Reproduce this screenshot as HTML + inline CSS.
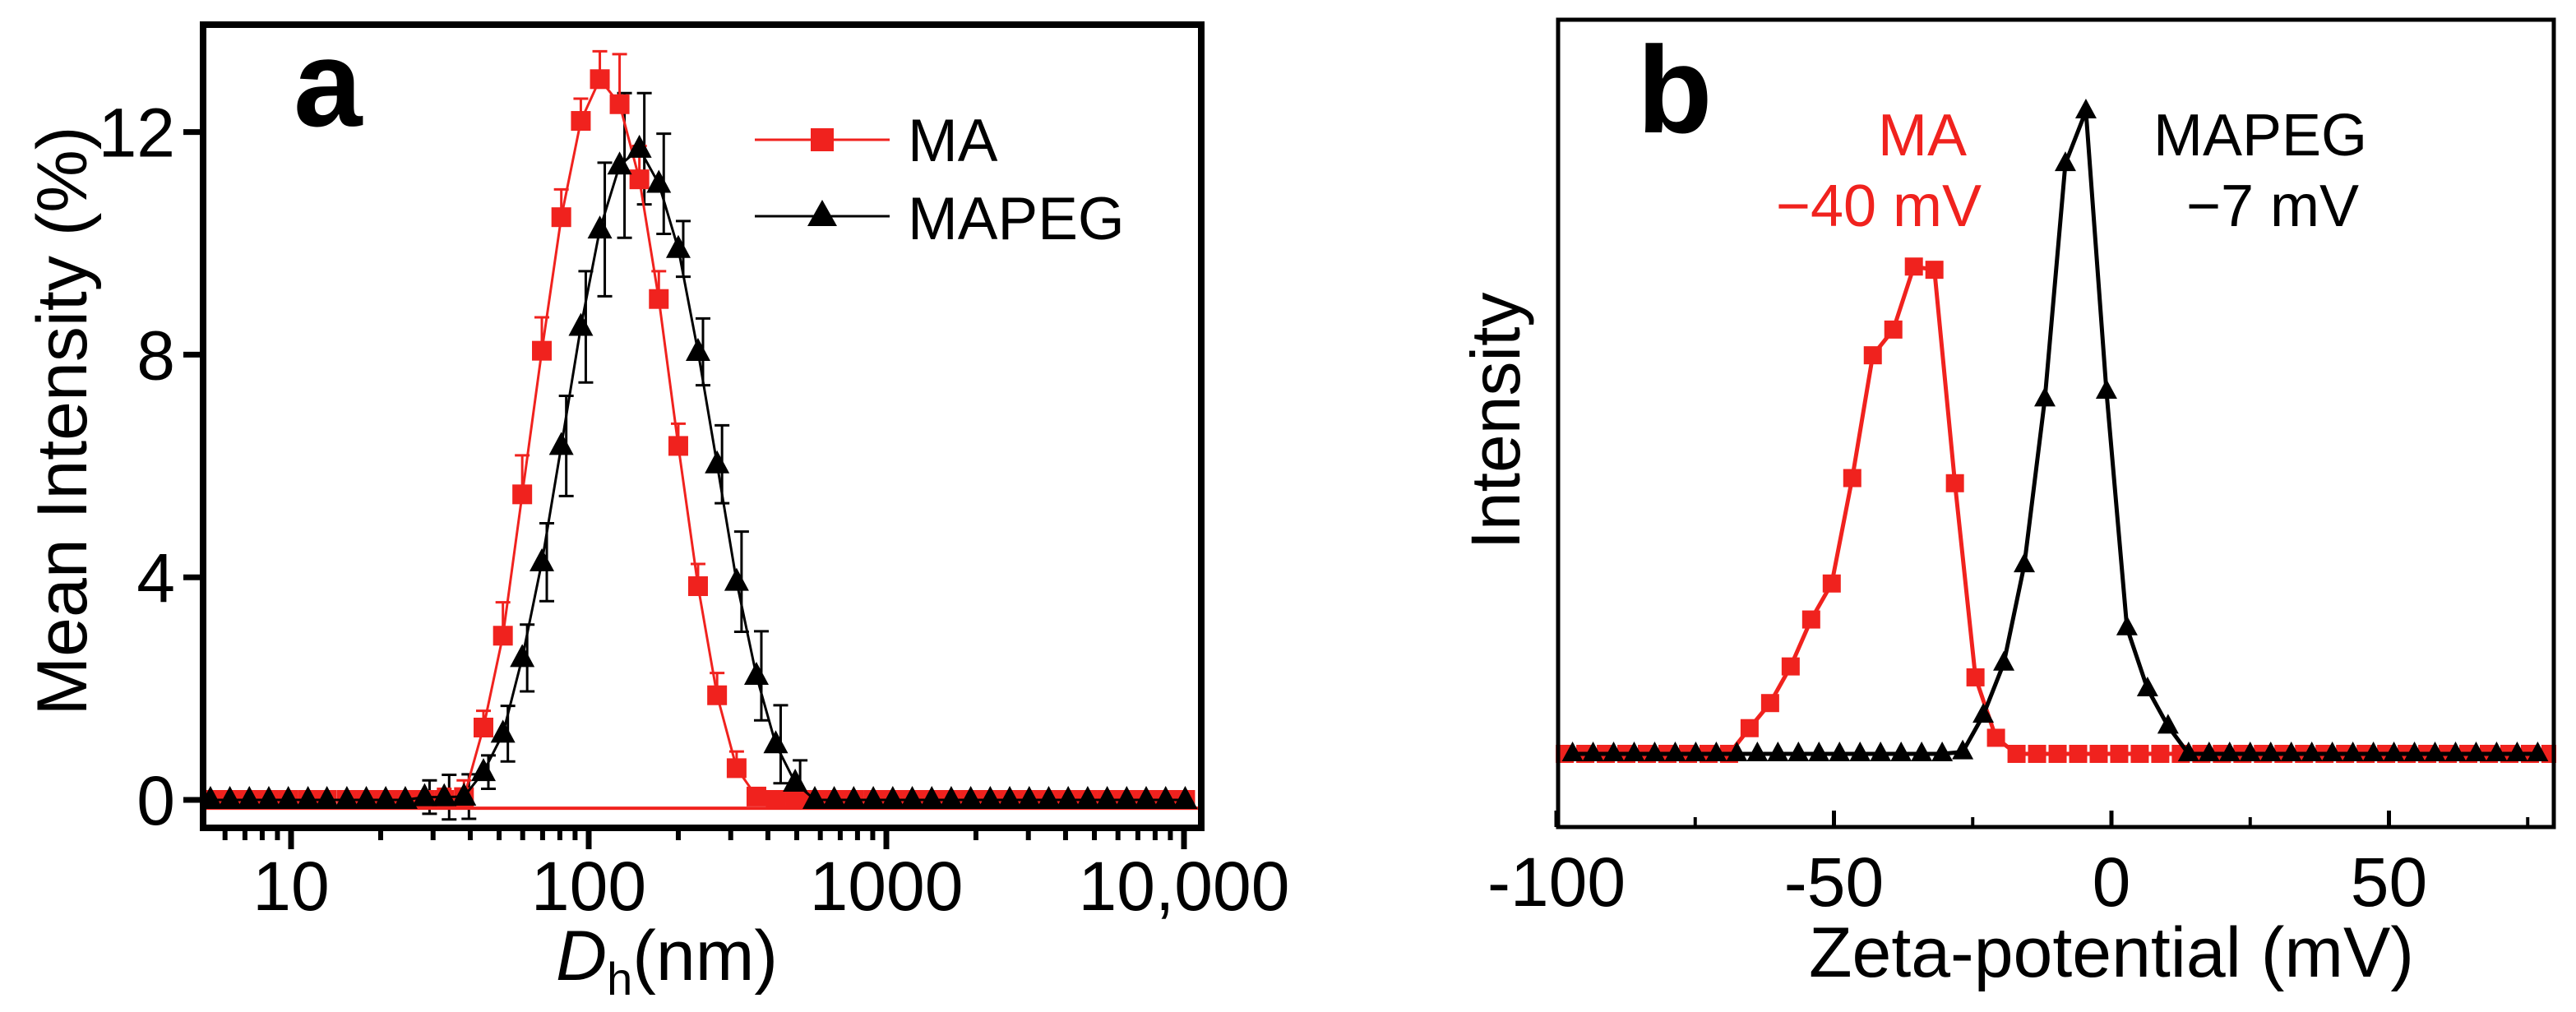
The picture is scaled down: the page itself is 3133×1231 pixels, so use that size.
<!DOCTYPE html>
<html><head><meta charset="utf-8"><style>
html,body{margin:0;padding:0;background:#fff;}
svg{display:block;font-family:"Liberation Sans",Arial,sans-serif;}
</style></head><body>
<svg id="fig" width="3133" height="1231" viewBox="0 0 3133 1231" xmlns="http://www.w3.org/2000/svg">
  <g id="pa"></g>
  <g id="pb"></g>
</svg>
<script>
// ---------- Panel a data ----------
const aSizes = [5.36,6.23,7.24,8.42,9.79,11.4,13.2,15.4,17.9,20.8,24.2,28.1,32.7,38.1,44.3,51.5,59.8,69.6,80.9,94.1,109,127,148,172,200,233,270,314,366,425,494,575,668,777,904,1051,1222,1421,1652,1921,2234,2597,3020,3512,4083,4748,5521,6420,7464,8679,10093];
const aMA = [0,0,0,0,0,0,0,0,0,0,0,0,0,0.05,1.3,2.95,5.49,8.07,10.47,12.2,12.95,12.5,11.15,9.0,6.36,3.84,1.88,0.57,0.06,0,0,0,0,0,0,0,0,0,0,0,0,0,0,0,0,0,0,0,0,0,0];
const aMAerr = [0.1,0.1,0.1,0.1,0.1,0.1,0.1,0.1,0.1,0.1,0.1,0.15,0.2,0.3,0.3,0.6,0.7,0.6,0.5,0.4,0.5,0.9,0.6,0.5,0.4,0.4,0.4,0.3,0.15,0.1,0.1,0.1,0.1,0.1,0.1,0.1,0.1,0.1,0.1,0.1,0.1,0.1,0.1,0.1,0.1,0.1,0.1,0.1,0.1,0.1,0.1];
const aPEG = [0,0,0,0,0,0,0,0,0,0,0,0.05,0.05,0.06,0.5,1.19,2.55,4.27,6.36,8.5,10.25,11.4,11.7,11.07,9.9,8.05,6.03,3.92,2.23,1.0,0.31,0,0,0,0,0,0,0,0,0,0,0,0,0,0,0,0,0,0,0,0];
const aPEGerr = [0,0,0,0,0,0,0,0,0,0,0,0.3,0.4,0.4,0.3,0.5,0.6,0.7,0.9,1.0,1.2,1.3,1.0,0.9,0.5,0.6,0.7,0.9,0.8,0.7,0.4,0,0,0,0,0,0,0,0,0,0,0,0,0,0,0,0,0,0,0,0];
const aYTicks = [0,4,8,12];
const aXTicks = [10,100,1000,10000];
const aXTickLabels = ["10","100","1000","10,000"];

// ---------- Panel b data ----------
const bMAx = [-98.5,-94.8,-91.1,-87.4,-83.7,-80,-76.3,-72.6,-68.9,-65.2,-61.5,-57.8,-54.1,-50.4,-46.7,-43,-39.3,-35.6,-31.9,-28.2,-24.5,-20.8,-17.1,-13.4,-9.7,-6,-2.3,1.4,5.1,8.8,12.5,16.2,19.9,23.6,27.3,31,34.7,38.4,42.1,45.8,49.5,53.2,56.9,60.6,64.3,68,71.7,75.4,79.1];
const bMAy = [0,0,0,0,0,0,0,0,0,4.0,7.9,13.6,20.9,26.5,42.9,62,66,75.8,75.3,42.1,11.9,2.5,0,0,0,0,0,0,0,0,0,0,0,0,0,0,0,0,0,0,0,0,0,0,0,0,0,0,0];
const bPEGx = [-97.1,-93.4,-89.7,-86,-82.3,-78.6,-74.9,-71.2,-67.5,-63.8,-60.1,-56.4,-52.7,-49,-45.3,-41.6,-37.9,-34.2,-30.5,-26.8,-23.1,-19.4,-15.7,-12,-8.3,-4.6,-0.9,2.8,6.5,10.2,13.9,17.6,21.3,25,28.7,32.4,36.1,39.8,43.5,47.2,50.9,54.6,58.3,62,65.7,69.4,73.1,76.8];
const bPEGy = [0,0,0,0,0,0,0,0,0,0,0,0,0,0,0,0,0,0,0,0.3,6.0,14.1,29.4,55.2,91.8,100,56.4,19.6,10.1,4.3,0,0,0,0,0,0,0,0,0,0,0,0,0,0,0,0,0,0];
const bXTicks = [-100,-50,0,50];
const bXMinor = [-75,-25,25,75];

const NS = "http://www.w3.org/2000/svg";
function mk(tag, attrs, parent) {
  const e = document.createElementNS(NS, tag);
  for (const k in attrs) e.setAttribute(k, attrs[k]);
  parent.appendChild(e);
  return e;
}
const RED = "#f0221e";

// ---------- Panel a ----------
const pa = document.getElementById("pa");
const aL = 247, aR = 1461, aT = 30, aB = 1007;
const ax = v => 354 + (Math.log10(v) - 1) * 362;
const ay = v => 973 - v * 67.7;

const ebA = mk("g", {}, pa);


aPEG.forEach((v, i) => {
  if (!aPEGerr[i]) return;
  const x = ax(aSizes[i]) + 6;
  mk("path", {d: `M${x},${ay(v + aPEGerr[i])}V${ay(v - aPEGerr[i])}M${x-9},${ay(v + aPEGerr[i])}h18M${x-9},${ay(v - aPEGerr[i])}h18`, stroke: "#000", "stroke-width": 3, fill: "none"}, ebA);
});
const ebR = mk("g", {}, pa);


aMA.forEach((v, i) => {
  const x = ax(aSizes[i]);
  mk("path", {d: `M${x},${ay(v)}V${ay(v + aMAerr[i])}M${x-9},${ay(v + aMAerr[i])}h18`, stroke: RED, "stroke-width": 3, fill: "none"}, ebR);
});
const band = mk("line", {x1: aL, x2: aR, y1: ay(-0.15), y2: ay(-0.15), stroke: RED, "stroke-width": 4}, pa);



const maLine = mk("polyline", {points: aMA.map((v, i) => `${ax(aSizes[i])},${ay(v)}`).join(" "), fill: "none", stroke: RED, "stroke-width": 3}, pa);


const maPts = mk("g", {}, pa);


aMA.forEach((v, i) => {
  const r = mk("rect", {x: ax(aSizes[i]) - 12, y: ay(v) - 12, width: 24, height: 24, fill: RED}, maPts);
  
  
});
const pegLine = mk("polyline", {points: aPEG.map((v, i) => `${ax(aSizes[i])},${ay(v)}`).join(" "), fill: "none", stroke: "#000", "stroke-width": 3}, pa);


const pegPts = mk("g", {}, pa);


aPEG.forEach((v, i) => {
  const x = ax(aSizes[i]), y = ay(v);
  const t = mk("path", {d: `M${x},${y-17}L${x+15},${y+11}L${x-15},${y+11}Z`, fill: "#000"}, pegPts);
  
  
});
mk("rect", {x: 0, y: 0, width: aL - 4, height: aB - 20, fill: "#fff"}, pa);
mk("rect", {x: aR + 4, y: 0, width: 380, height: aB, fill: "#fff"}, pa);

const fa = mk("rect", {x: aL, y: aT, width: aR - aL, height: aB - aT, fill: "none", stroke: "#000", "stroke-width": 8}, pa);


aYTicks.forEach(v => {
  mk("line", {x1: aL - 24, x2: aL, y1: ay(v), y2: ay(v), stroke: "#000", "stroke-width": 7}, pa);
  const t = mk("text", {x: 213, y: ay(v) + 30, "text-anchor": "end", "font-size": 84}, pa);
  t.textContent = v;
  
  
});
aXTicks.forEach((v, i) => {
  mk("line", {x1: ax(v), x2: ax(v), y1: aB, y2: aB + 26, stroke: "#000", "stroke-width": 7}, pa);
  const t = mk("text", {x: ax(v), y: 1107, "text-anchor": "middle", "font-size": 84}, pa);
  t.textContent = aXTickLabels[i];
  
  
});
[1, 10, 100, 1000].forEach(d => {
  for (let m = 2; m <= 9; m++) {
    const v = d * m;
    if (ax(v) < aL || ax(v) > aR) continue;
    mk("line", {x1: ax(v), x2: ax(v), y1: aB, y2: aB + 15, stroke: "#000", "stroke-width": 6}, pa);
  }
});
let t;
t = mk("text", {x: 357, y: 153, "font-size": 150, "font-weight": "bold"}, pa);
t.textContent = "a";


t = mk("text", {transform: "translate(105,512) rotate(-90)", "text-anchor": "middle", "font-size": 86}, pa);
t.textContent = "Mean Intensity (%)";


t = mk("text", {x: 811, y: 1192, "text-anchor": "middle", "font-size": 86}, pa);
t.innerHTML = '<tspan font-style="italic">D</tspan><tspan font-size="56" dy="18">h</tspan><tspan dy="-18">(nm)</tspan>';


const lg = mk("g", {}, pa);


const le1 = mk("g", {}, lg);


mk("line", {x1: 918, x2: 1082, y1: 170, y2: 170, stroke: RED, "stroke-width": 3}, le1);
mk("rect", {x: 986, y: 156, width: 28, height: 28, fill: RED}, le1);
t = mk("text", {x: 1104, y: 196, "font-size": 73}, le1); t.textContent = "MA";
const le2 = mk("g", {}, lg);


mk("line", {x1: 918, x2: 1082, y1: 263, y2: 263, stroke: "#000", "stroke-width": 3}, le2);
mk("path", {d: "M1000,243L1018,275L982,275Z", fill: "#000"}, le2);
t = mk("text", {x: 1104, y: 291, "font-size": 73}, le2); t.textContent = "MAPEG";

// ---------- Panel b ----------
const pb = document.getElementById("pb");
const bL = 1895, bR = 3106, bT = 24, bB = 1006;
const bx = v => 2568 + v * 6.75;
const by = v => 917 - v * 7.82;

const bmaLine = mk("polyline", {points: bMAx.map((x, i) => `${bx(x)},${by(bMAy[i])}`).join(" "), fill: "none", stroke: RED, "stroke-width": 5}, pb);


const bmaPts = mk("g", {}, pb);


bMAx.forEach((x, i) => {
  const r = mk("rect", {x: bx(x) - 11, y: by(bMAy[i]) - 11, width: 22, height: 22, fill: RED}, bmaPts);
  
  
});
const bpLine = mk("polyline", {points: bPEGx.map((x, i) => `${bx(x)},${by(bPEGy[i])}`).join(" "), fill: "none", stroke: "#000", "stroke-width": 5}, pb);


const bpPts = mk("g", {}, pb);


bPEGx.forEach((x, i) => {
  const X = bx(x), Y = by(bPEGy[i]);
  const tr = mk("path", {d: `M${X},${Y-15}L${X+13},${Y+9}L${X-13},${Y+9}Z`, fill: "#000"}, bpPts);
  
  
});
mk("rect", {x: bR + 3, y: 0, width: 40, height: bB, fill: "#fff"}, pb);
mk("rect", {x: bL - 40, y: 0, width: 37, height: bB, fill: "#fff"}, pb);
const fb = mk("rect", {x: bL, y: bT, width: bR - bL, height: bB - bT, fill: "none", stroke: "#000", "stroke-width": 5}, pb);


bXTicks.forEach(v => {
  mk("line", {x1: bx(v), x2: bx(v), y1: bB, y2: bB - 20, stroke: "#000", "stroke-width": 5}, pb);
  const tl = mk("text", {x: bx(v), y: 1102, "text-anchor": "middle", "font-size": 84}, pb);
  tl.textContent = v;
  
  
});
bXMinor.forEach(v => {
  mk("line", {x1: bx(v), x2: bx(v), y1: bB, y2: bB - 12, stroke: "#000", "stroke-width": 4}, pb);
});
t = mk("text", {x: 1991, y: 161, "font-size": 150, "font-weight": "bold"}, pb);
t.textContent = "b";


t = mk("text", {transform: "translate(1848,512) rotate(-90)", "text-anchor": "middle", "font-size": 84}, pb);
t.textContent = "Intensity";


t = mk("text", {x: 2568, y: 1188, "text-anchor": "middle", "font-size": 86}, pb);
t.textContent = "Zeta-potential (mV)";


t = mk("text", {x: 2338, y: 189, "text-anchor": "middle", "font-size": 72, fill: RED}, pb);
t.textContent = "MA";


t = mk("text", {x: 2285, y: 275, "text-anchor": "middle", "font-size": 72, fill: RED}, pb);
t.textContent = "\u221240 mV";


t = mk("text", {x: 2749, y: 189, "text-anchor": "middle", "font-size": 72}, pb);
t.textContent = "MAPEG";


t = mk("text", {x: 2764, y: 275, "text-anchor": "middle", "font-size": 72}, pb);
t.textContent = "\u22127 mV";


</script>
</body></html>
